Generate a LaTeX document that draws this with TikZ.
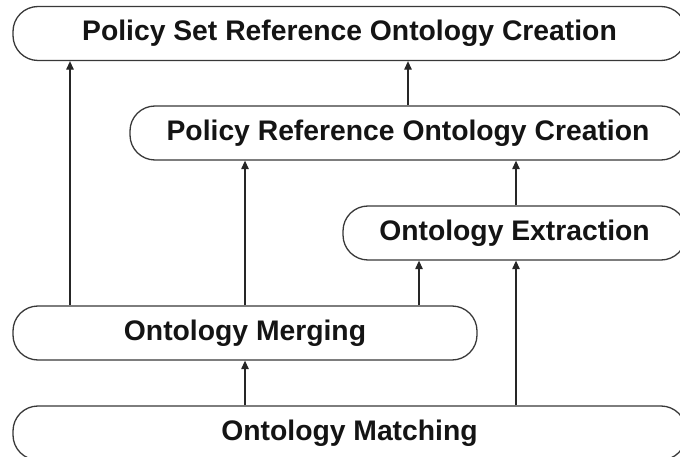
\documentclass[tikz,border=0pt]{standalone}
\usepackage{fontspec}
\setmainfont{Liberation Sans}
\usetikzlibrary{arrows.meta}
\begin{document}
\begin{tikzpicture}[x=1pt,y=-1pt,
  stage/.style={draw=black!78, line width=1.3pt, rounded corners=25pt,
    minimum height=54pt, inner sep=0pt,
    font=\fontsize{28.3}{32}\selectfont\bfseries, text=black!92},
  flow/.style={draw=black!85, line width=1.2pt,
    -{Triangle[length=8.5pt,width=7.5pt]}}]
  \useasboundingbox (0,0) rectangle (680,457);
  \clip (0,0) rectangle (680,457);
  % processing stages, bottom row spills past the frame
  \node[stage, minimum width=673pt] (pset)  at (349.5,33.5) {Policy Set Reference Ontology Creation};
  \node[stage, minimum width=556pt] (pref)  at (408,133)   {Policy Reference Ontology Creation};
  \node[stage, minimum width=343pt] (extr)  at (514.5,233) {Ontology Extraction};
  \node[stage, minimum width=464pt] (merge) at (245,333)   {Ontology Merging};
  \node[stage, minimum width=673pt] (match) at (349.5,433) {Ontology Matching};
  % x positions of the connectors
  \coordinate (ca) at (70,0);
  \coordinate (cb) at (245,0);
  \coordinate (cc) at (408,0);
  \coordinate (cd) at (419,0);
  \coordinate (ce) at (516,0);
  % data flow upward
  \draw[flow] (merge.north -| ca) -- (pset.south -| ca);
  \draw[flow] (merge.north -| cb) -- (pref.south -| cb);
  \draw[flow] (merge.north -| cd) -- (extr.south -| cd);
  \draw[flow] (match.north -| cb) -- (merge.south -| cb);
  \draw[flow] (match.north -| ce) -- (extr.south -| ce);
  \draw[flow] (extr.north -| ce) -- (pref.south -| ce);
  \draw[flow] (pref.north -| cc) -- (pset.south -| cc);
\end{tikzpicture}
\end{document}
